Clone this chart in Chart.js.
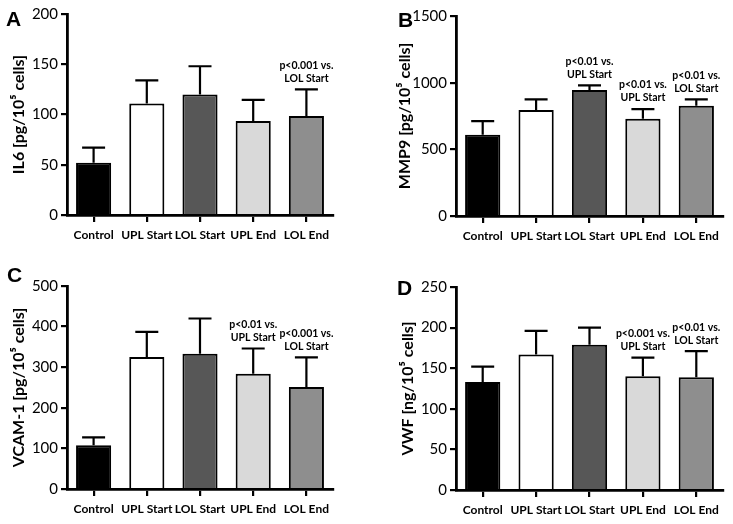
<!DOCTYPE html>
<html lang="en">
<head>
<meta charset="UTF-8">
<title>Cytokines</title>
<script src="https://cdn.jsdelivr.net/npm/chart.js@4.4.0/dist/chart.umd.min.js"></script>
<style>
    body { margin: 0; background: #fff; }
    .wrap { position: relative; width: 733px; height: 524px; }
    .panel { position: absolute; }
    .letter { position: absolute; font-family: "Liberation Sans", Arial, sans-serif; font-weight: bold; font-size: 21px; line-height: 1; }
</style>
</head>
<body>
<div class="wrap">
    <canvas class="panel" id="chartA" width="366" height="262" style="left:0;top:0"></canvas>
    <canvas class="panel" id="chartB" width="367" height="262" style="left:366px;top:0"></canvas>
    <canvas class="panel" id="chartC" width="366" height="262" style="left:0;top:262px"></canvas>
    <canvas class="panel" id="chartD" width="367" height="262" style="left:366px;top:262px"></canvas>
    <div class="letter" style="left:6px;top:8px">A</div>
    <div class="letter" style="left:398px;top:9px">B</div>
    <div class="letter" style="left:7px;top:264px">C</div>
    <div class="letter" style="left:397px;top:277px">D</div>
</div>
<script>
const groups = ['Control', 'UPL Start', 'LOL Start', 'UPL End', 'LOL End']
const barColors = ['#000000', '#ffffff', '#575757', '#d9d9d9', '#8e8e8e']

const il6Mean = [52, 111, 120, 93.5, 98.5]
const il6Err = [15, 23, 28, 21, 26.5]
const il6Notes = [null, null, null, null, ['p<0.001 vs.', 'LOL Start']]

const mmp9Mean = [610, 795, 945, 730, 827]
const mmp9Err = [102, 80, 35, 72, 48]
const mmp9Notes = [null, null, ['p<0.01 vs.', 'UPL Start'], ['p<0.01 vs.', 'UPL Start'], ['p<0.01 vs.', 'LOL Start']]

const vcamMean = [108, 325, 333, 284, 251]
const vcamErr = [19, 62, 87, 62, 73]
const vcamNotes = [null, null, null, ['p<0.01 vs.', 'UPL Start'], ['p<0.001 vs.', 'LOL Start']]

const vwfMean = [133, 167, 179, 140, 139]
const vwfErr = [19, 29, 21, 23, 32]
const vwfNotes = [null, null, null, ['p<0.001 vs.', 'UPL Start'], ['p<0.01 vs.', 'LOL Start']]

const narrow = 'Lato, Roboto, sans-serif'

// upper error bars + the p-value notes above them
const errorBars = {
    id: 'errorBars',
    afterDatasetsDraw(chart, args, opts) {
        const ctx = chart.ctx
        const yScale = chart.scales.y
        const meta = chart.getDatasetMeta(0)
        const ds = chart.data.datasets[0]
        ctx.save()
        meta.data.forEach((bar, i) => {
            const top = yScale.getPixelForValue(ds.data[i] + opts.errors[i])
            ctx.strokeStyle = '#000'
            ctx.lineWidth = 2.2
            ctx.beginPath()
            ctx.moveTo(bar.x, bar.y)
            ctx.lineTo(bar.x, top)
            ctx.moveTo(bar.x - 11.5, top)
            ctx.lineTo(bar.x + 11.5, top)
            ctx.stroke()
            const note = opts.notes[i]
            if (note) {
                ctx.fillStyle = '#000'
                ctx.font = 'bold 10.5px ' + narrow
                ctx.textAlign = 'center'
                ctx.textBaseline = 'middle'
                ctx.fillText(note[0], bar.x, top - 24)
                ctx.fillText(note[1], bar.x, top - 11)
            }
        })
        ctx.restore()
    }
}

const makePanel = (id, means, errors, notes, max, step, title, pad, yWidth, xHeight) => {
    return new Chart(document.getElementById(id), {
        type: 'bar',
        data: {
            labels: groups,
            datasets: [{
                data: means,
                backgroundColor: barColors,
                borderColor: '#000',
                borderWidth: 2,
                barPercentage: 0.66,
                categoryPercentage: 1
            }]
        },
        options: {
            responsive: false,
            animation: false,
            layout: { padding: pad },
            plugins: {
                legend: { display: false },
                tooltip: { enabled: false },
                errorBars: { errors: errors, notes: notes }
            },
            scales: {
                x: {
                    offset: true,
                    border: { color: '#000', width: 2.8 },
                    grid: { offset: false, drawOnChartArea: false, tickLength: 7, color: '#000', lineWidth: 2.2 },
                    ticks: { color: '#000', padding: 6, maxRotation: 0, autoSkip: false, font: { family: narrow, size: 12, weight: 'bold' } },
                    afterFit: scale => { scale.height = xHeight }
                },
                y: {
                    min: 0,
                    max: max,
                    border: { color: '#000', width: 2.8 },
                    grid: { drawOnChartArea: false, tickLength: 6, color: '#000', lineWidth: 2.2 },
                    ticks: { stepSize: step, color: '#000', padding: 3, font: { family: narrow, size: 15 }, callback: v => String(v) },
                    title: { display: true, text: title, color: '#000', padding: 0, font: { family: narrow, size: 16, weight: 'bold' } },
                    afterFit: scale => { scale.width = yWidth }
                }
            }
        },
        plugins: [errorBars]
    })
}

makePanel('chartA', il6Mean, il6Err, il6Notes, 200, 50, 'IL6 [pg/10\u2075 cells]',
    { left: 9, top: 14, right: 33, bottom: 7 }, 58, 40)
makePanel('chartB', mmp9Mean, mmp9Err, mmp9Notes, 1500, 500, 'MMP9 [pg/10\u2075 cells]',
    { left: 29, top: 16, right: 10, bottom: 6 }, 61, 40)
makePanel('chartC', vcamMean, vcamErr, vcamNotes, 500, 100, 'VCAM-1 [pg/10\u2075 cells]',
    { left: 9, top: 24, right: 33, bottom: 0 }, 58, 35)
makePanel('chartD', vwfMean, vwfErr, vwfNotes, 250, 50, 'VWF [ng/10\u2075 cells]',
    { left: 32, top: 25, right: 10, bottom: 0 }, 58, 34)
</script>
</body>
</html>
